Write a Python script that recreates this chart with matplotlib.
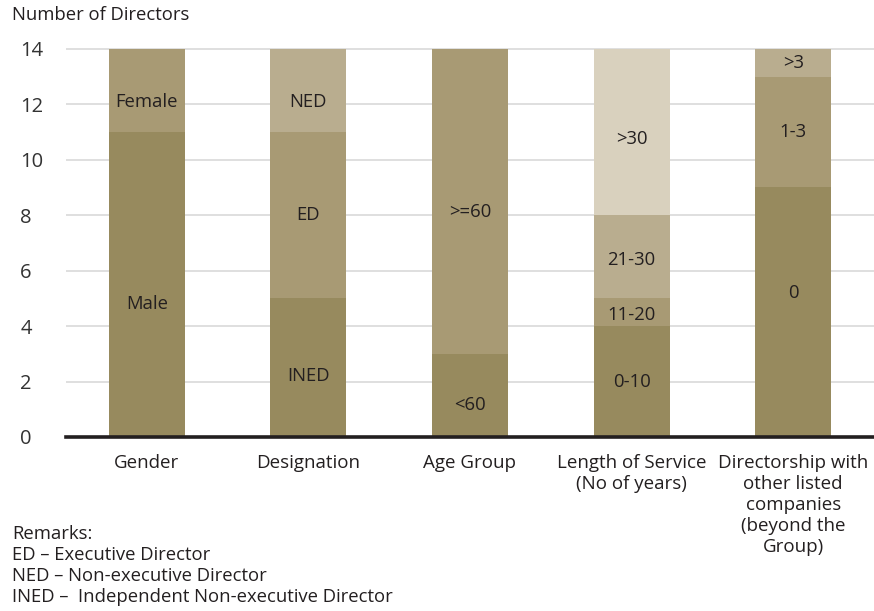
import matplotlib
matplotlib.use("Agg")
import matplotlib.pyplot as plt
import numpy as np

plt.rcParams['font.family'] = ['Open Sans', 'DejaVu Sans']

categories = ["Gender", "Designation", "Age Group",
              "Length of Service\n(No of years)",
              "Directorship with\nother listed\ncompanies\n(beyond the\nGroup)"]

# stacked segments, bottom to top, per category
seg_values = [
    [11, 3],
    [5, 6, 3],
    [3, 11],
    [4, 1, 3, 6],
    [9, 4, 1],
]
seg_labels = [
    ["Male", "Female"],
    ["INED", "ED", "NED"],
    ["<60", ">=60"],
    ["0-10", "11-20", "21-30", ">30"],
    ["0", "1-3", ">3"],
]

shades = ["#978a5e", "#a89a74", "#b9ad8f", "#d9d1be"]
# small nudges so labels sit where the original put them
label_nudge = [
    [-0.7, -0.4],
    [-0.3, 0.0, -0.4],
    [-0.35, -0.4],
    [0.0, -0.1, -0.1, -0.25],
    [0.7, 0.0, 0.0],
]

fig = plt.figure(figsize=(8.74, 6.11), dpi=100)
ax = fig.add_axes([0.0755, 0.2848, 0.9245, 0.6366])

x = np.arange(len(categories))
for i, vals in enumerate(seg_values):
    bottom = 0
    for j, v in enumerate(vals):
        ax.bar(x[i], v, bottom=bottom, width=0.47, color=shades[j], zorder=2)
        ax.text(x[i], bottom + v / 2 + label_nudge[i][j], seg_labels[i][j],
                ha='center', va='center', fontsize=13.3, color='#231f20', zorder=3)
        bottom += v

ax.set_xlim(-0.5, 4.5)
ax.set_ylim(0, 14.03)
ax.set_yticks(range(0, 15, 2))
ax.yaxis.grid(True, color='#d9d9d9', linewidth=1.2, zorder=0)
ax.set_axisbelow(True)
for s in ['top', 'right', 'left']:
    ax.spines[s].set_visible(False)
ax.spines['bottom'].set_linewidth(2.6)
ax.spines['bottom'].set_color('#231f20')
ax.tick_params(axis='y', length=0, labelsize=14.5, pad=33, labelcolor='#333333')
ax.tick_params(axis='x', length=0, labelsize=13.5, pad=12, labelcolor='#231f20')
for lbl in ax.get_yticklabels():
    lbl.set_horizontalalignment('left')
ax.set_xticks(x)
ax.set_xticklabels(categories, linespacing=1.22)

fig.text(0.014, 0.975, "Number of Directors", fontsize=13.3, color='#231f20', va='center')
fig.text(0.014, 0.14, "Remarks:\nED \u2013 Executive Director\nNED \u2013 Non-executive Director\nINED \u2013  Independent Non-executive Director",
         fontsize=13.3, color='#231f20', va='top', linespacing=1.2)

fig.savefig("out.png", dpi=100)
